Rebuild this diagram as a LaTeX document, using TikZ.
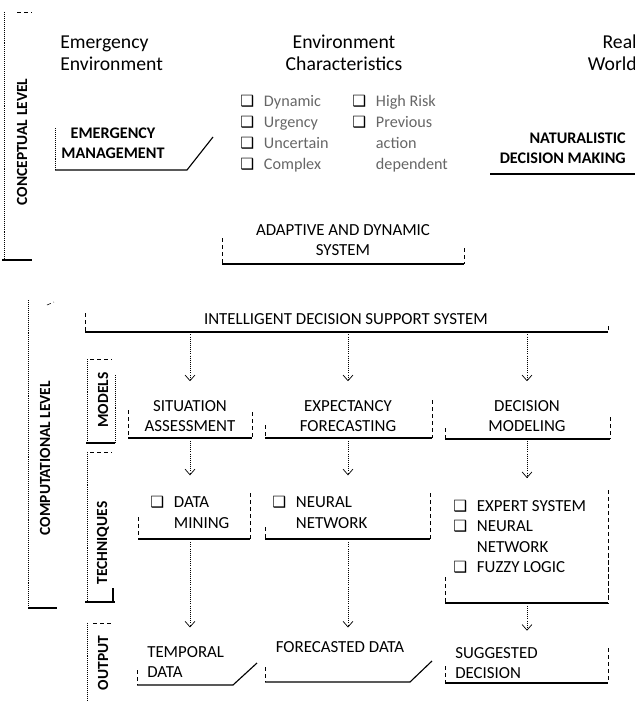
\documentclass[tikz,border=0pt]{standalone}
\usepackage{fontspec}
\setmainfont{Carlito}
\newfontfamily\symfont{DejaVu Sans}
\usetikzlibrary{positioning,
	calc,
	arrows.meta}

\newcommand{\chk}{{\color{black}\fontsize{11}{11}\symfont\symbol{"2751}}}

\tikzset{
	title/.style={font=\fontsize{14}{15.6}\selectfont, inner sep=0pt},
	boxtext/.style={font=\fontsize{12}{14.5}\selectfont, align=center},
	strong/.style={font=\bfseries\fontsize{11.5}{14.5}\selectfont},
	sidetext/.style={font=\bfseries\fontsize{11}{12}\selectfont, rotate=90},
	itemlist/.style={font=\fontsize{12}{14.5}\selectfont, anchor=west, inner sep=0pt},
	base/.style={line width=0.8pt},
	side/.style={densely dashed, line width=0.4pt},
	rim/.style={densely dotted, line width=0.4pt},
	flow/.style={densely dotted, line width=0.5pt, -{Straight Barb[length=4pt,width=7pt]}, shorten <=3pt}
}

\begin{document}
\begin{tikzpicture}[x=0.025cm, y=-0.025cm]
\useasboundingbox (0,0) rectangle (635,703);

\node (emgenv) [title, anchor=west, align=left] at (60,53) {Emergency\\Environment};
\node (envchar) [title, align=center] at (344,53) {Environment\\Characteristics};
\node (realworld) [title, anchor=east, align=right] at (637,53) {Real\\World};

\node (charleft) [itemlist, text=black!60, font=\fontsize{11.5}{14.9}\selectfont] at (240,134) {\begin{tabular}{@{}l@{\hspace{7pt}}l@{}}\chk & Dynamic\\ \chk & Urgency\\ \chk & Uncertain\\ \chk & Complex\end{tabular}};
\node (charright) [itemlist, text=black!60, font=\fontsize{11.5}{14.9}\selectfont] at (352,134) {\begin{tabular}{@{}l@{\hspace{7pt}}l@{}}\chk & High Risk\\ \chk & Previous\\ & action\\ & dependent\end{tabular}};

\node (emgmt) [boxtext, strong] at (113,143) {EMERGENCY\\MANAGEMENT};
\draw[rim] (55,128) -- (55,170);
\draw[base] (55,170) -- (187,170) -- (213,137);

\node (ndm) [boxtext, strong, align=right, anchor=east, inner sep=0pt] at (626,148) {NATURALISTIC\\DECISION MAKING};
\draw[base] (490,174) -- (635,174);
\draw[side] (635,150) -- (635,174);

\node (ads) [boxtext] at (343,240) {ADAPTIVE AND DYNAMIC\\SYSTEM};
\draw[side] (222,238) -- (222,264);
\draw[base] (222,264) -- (464,264);
\draw[side] (464,248) -- (464,264);

\node (conceptual) [sidetext] at (22,142) {CONCEPTUAL LEVEL};
\draw[rim] (4,12) -- (4,260);
\draw[side] (17,12) -- (32,12);
\draw[base] (2,260) -- (32,260);

\node (computational) [sidetext] at (45,458) {COMPUTATIONAL LEVEL};
\draw[rim] (28,300) -- (28,608);
\draw[side] (47,305) -- (54,302);
\draw[base] (28,608) -- (57,608);

\node (models) [sidetext] at (103,400) {MODELS};
\draw[side] (90,359) -- (112,359);
\draw[rim] (87,359) -- (87,443);
\draw[rim] (115,375) -- (115,443);
\draw[base] (86,443) -- (115,443);

\node (techniques) [sidetext] at (103,543) {TECHNIQUES};
\draw[side] (90,452) -- (112,452);
\draw[rim] (87,452) -- (87,602);
\draw[base] (113,588) -- (113,602);
\draw[base] (85,602) -- (115,602);

\node (output) [sidetext] at (103,663) {OUTPUT};
\draw[side] (93,623) -- (112,623);
\draw[rim] (87,623) -- (87,700);

\node (idss) [boxtext] at (346,319) {INTELLIGENT DECISION SUPPORT SYSTEM};
\draw[side] (85,313) -- (85,332);
\draw[base] (85,332) -- (608,332);
\draw[side] (608,326) -- (608,332);

\node (sa) [boxtext] at (190,416) {SITUATION\\ASSESSMENT};
\draw[side] (128,410) -- (128,438);
\draw[base] (128,438) -- (252,438);
\draw[side] (252,412) -- (252,438);

\node (ef) [boxtext] at (348,416) {EXPECTANCY\\FORECASTING};
\draw[side] (265,425) -- (265,438);
\draw[base] (265,438) -- (432,438);
\draw[side] (432,400) -- (432,438);

\node (dm) [boxtext] at (527,416) {DECISION\\MODELING};
\draw[side] (445,428) -- (445,439);
\draw[base] (445,439) -- (610,439);
\draw[side] (610,417) -- (610,439);

\node (dmine) [itemlist] at (150,514) {\begin{tabular}{@{}l@{\hspace{7pt}}l@{}}\chk & DATA\\ & MINING\end{tabular}};
\draw[side] (138,517) -- (138,539);
\draw[base] (138,539) -- (250,539);
\draw[side] (250,493) -- (250,539);

\node (nnet) [itemlist] at (272,514) {\begin{tabular}{@{}l@{\hspace{7pt}}l@{}}\chk & NEURAL\\ & NETWORK\end{tabular}};
\draw[side] (265,527) -- (265,539);
\draw[base] (265,539) -- (430,539);
\draw[side] (430,493) -- (430,539);

\node (esys) [itemlist] at (453,538) {\begin{tabular}{@{}l@{\hspace{7pt}}l@{}}\chk & EXPERT SYSTEM\\ \chk & NEURAL\\ & NETWORK\\ \chk & FUZZY LOGIC\end{tabular}};
\draw[side] (445,577) -- (445,603);
\draw[base] (445,603) -- (608,603);
\draw[side] (608,490) -- (608,603);

\node (temporal) [boxtext, align=left, anchor=west, inner sep=0pt] at (147,662) {TEMPORAL\\DATA};
\draw[side] (137,670) -- (137,685);
\draw[base] (137,685) -- (233,685) -- (257,663);

\node (forecast) [boxtext] at (340,647) {FORECASTED DATA};
\draw[side] (265,667) -- (265,682);
\draw[base] (265,682) -- (410,682) -- (432,661);

\node (suggested) [boxtext, align=left, anchor=west, inner sep=0pt] at (455,663) {SUGGESTED\\DECISION};
\draw[side] (445,666) -- (445,683);
\draw[base] (445,683) -- (608,683);
\draw[side] (608,648) -- (608,683);

\draw[flow, shorten <=3.5pt, shorten >=10pt] (idss.south -| sa.north) -- (sa.north);
\draw[flow, shorten <=3.5pt, shorten >=10pt] (idss.south -| ef.north) -- (ef.north);
\draw[flow, shorten <=3.5pt, shorten >=10pt] (idss.south -| dm.north) -- (dm.north);

\draw[flow, shorten >=12.8pt] (sa.south) -- (sa.south |- dmine.north);
\draw[flow, shorten >=12.8pt] (ef.south) -- (ef.south |- nnet.north);
\draw[flow, shorten >=13.4pt] (dm.south) -- (dm.south |- esys.north);

\draw[flow, shorten <=5.4pt, shorten >=13.2pt] (dmine.south -| sa.south) -- (sa.south |- temporal.north);
\draw[flow, shorten <=5.4pt, shorten >=6.4pt] (nnet.south -| ef.south) -- (ef.south |- forecast.north);
\draw[flow, shorten <=19pt, shorten >=11.6pt] (esys.south -| dm.south) -- (dm.south |- suggested.north);
\end{tikzpicture}
\end{document}
